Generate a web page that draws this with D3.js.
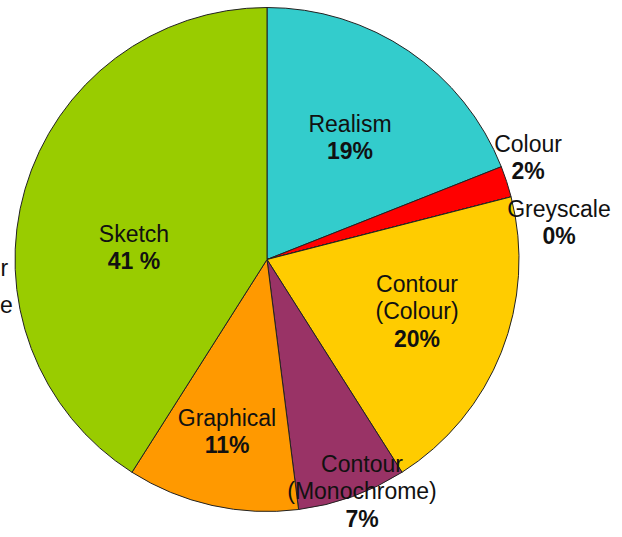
<!DOCTYPE html>
<html>
<head>
<meta charset="utf-8">
<script src="https://cdn.jsdelivr.net/npm/d3@7/dist/d3.min.js"></script>
<style>
  html, body { margin: 0; padding: 0; background: #fff; }
  svg { display: block; }
  text { font-family: "Liberation Sans", Arial, sans-serif; fill: #111; }
</style>
</head>
<body>
<script>
// Share of each depiction style (percent), clockwise from 12 o'clock
const categories = ["Realism", "Colour", "Greyscale", "Contour (Colour)", "Contour (Monochrome)", "Graphical", "Sketch"];
const values = [19, 2, 0, 20, 7, 11, 41];
const nameLines = [["Realism"], ["Colour"], ["Greyscale"], ["Contour", "(Colour)"], ["Contour", "(Monochrome)"], ["Graphical"], ["Sketch"]];
const percentText = ["19%", "2%", "0%", "20%", "7%", "11%", "41 %"];
const colors = ["#33CCCC", "#FF0000", "#C0C0C0", "#FFCC00", "#993366", "#FF9900", "#99CC00"];

// Label block placement: first-line baseline offset from the pie centre
const labelAt = [[83, -128], [261, -108], [292, -43], [150, 32], [95, 212], [-40, 166], [-133, -18]];

// Trailing letters of the neighbouring chart's labels at the left margin
const strayLabels = [{ text: "r", x: 0.5, y: 276 }, { text: "e", x: 0, y: 313 }];

const W = 622, H = 537;
const cx = 267, cy = 259.5, R = 252;
const fontSize = 23, lineGap = 27.5;

const svg = d3.select("body").append("svg").attr("width", W).attr("height", H);

const pie = d3.pie().sort(null).value(d => d).startAngle(0).endAngle(2 * Math.PI);
const arcs = pie(values);
const arc = d3.arc().innerRadius(0).outerRadius(R);

const g = svg.append("g").attr("transform", `translate(${cx},${cy})`);

g.selectAll("path.slice")
  .data(arcs)
  .join("path")
  .attr("class", "slice")
  .attr("d", arc)
  .attr("fill", (d, i) => colors[i])
  .attr("stroke", "#222")
  .attr("stroke-width", 1)
  .attr("stroke-linejoin", "round");

const labels = g.selectAll("g.label")
  .data(arcs)
  .join("g")
  .attr("class", "label")
  .attr("transform", (d, i) => `translate(${labelAt[i][0]},${labelAt[i][1]})`);

labels.each(function (d, i) {
  const sel = d3.select(this);
  const lines = nameLines[i];
  lines.forEach((t, k) => {
    sel.append("text")
      .attr("text-anchor", "middle")
      .attr("y", k * lineGap)
      .attr("font-size", fontSize)
      .text(t);
  });
  sel.append("text")
    .attr("text-anchor", "middle")
    .attr("y", lines.length * lineGap)
    .attr("font-size", fontSize)
    .attr("font-weight", "bold")
    .text(percentText[i]);
});

svg.selectAll("text.stray")
  .data(strayLabels)
  .join("text")
  .attr("class", "stray")
  .attr("x", d => d.x)
  .attr("y", d => d.y)
  .attr("text-anchor", "start")
  .attr("font-size", fontSize)
  .text(d => d.text);
</script>
</body>
</html>
